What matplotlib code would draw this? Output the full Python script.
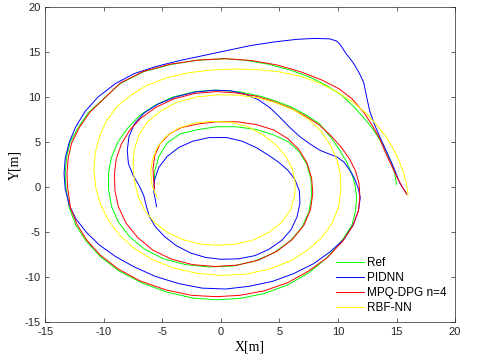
import matplotlib
matplotlib.use("Agg")
import numpy as np
from matplotlib import pyplot as plt

# trajectories (x, y in metres)
ref_x = [15.0, 14.85, 14.6, 14.15, 13.6, 12.95, 12.2, 11.3, 10.3, 9.0, 7.6, 5.9, 4.0, 2.2, 0.4,
         -1.9, -4.3, -6.6, -8.6, -10.1, -11.3, -12.2, -12.9, -13.2, -13.3, -13.25, -12.95, -12.4,
         -11.5, -10.3, -8.7, -6.8, -4.6, -2.4, -0.4, 1.6, 3.7, 5.7, 7.5, 9.0, 10.35, 11.2, 11.5,
         11.6, 11.45, 11.15, 10.7, 10.15, 9.4, 8.45, 7.3, 6.0, 5.0, 3.5, 1.7, -0.4, -2.2, -4.1,
         -5.6, -6.9, -8.0, -8.8, -9.35, -9.6, -9.6, -9.35, -8.75, -7.8, -6.5, -4.9, -3.0, -1.0,
         1.0, 2.9, 4.5, 5.9, 6.9, 7.5, 7.75, 7.7, 7.35, 6.7, 5.8, 4.5, 3.0, 1.3, -0.4, -2.1, -3.5,
         -4.6, -5.3, -5.65, -5.7]
ref_y = [0.3, 1.5, 2.6, 3.9, 5.2, 6.5, 7.7, 9.0, 10.2, 11.3, 12.2, 13.0, 13.65, 14.05, 14.25,
         14.1, 13.6, 12.8, 11.5, 9.7, 8.3, 6.6, 4.9, 3.2, 1.5, 0.0, -2.3, -4.2,
         -6.0, -7.7, -9.3, -10.6, -11.65, -12.3, -12.5, -12.35, -11.8, -10.85, -9.5, -7.9, -5.9, -4.2, -2.6,
         -1.2, 0.3, 1.6, 2.9, 4.1, 5.5, 7.0, 8.0, 8.9, 9.4, 10.05, 10.55, 10.77, 10.6, 10.0,
         9.1, 8.0, 6.5, 5.0, 3.3, 1.6, -0.2, -2.1, -3.9, -5.5, -6.9, -7.95, -8.6, -8.85,
         -8.75, -8.2, -7.3, -6.0, -4.5, -2.8, -1.0, 0.8, 2.5, 3.9, 5.0, 5.8, 6.4, 6.7, 6.7, 6.35, 5.9,
         4.9, 3.4, 1.8, 0.0]

pidnn_x = [15.8, 15.3, 14.75, 14.2, 13.6, 13.1, 12.7, 12.45, 12.2, 11.8, 11.3, 10.7, 10.2, 9.9,
           9.3, 8.0, 6.5, 4.5, 2.5, 0.5, -1.5, -3.5, -5.5, -7.4, -9.0, -10.5, -11.6, -12.4, -12.95,
           -13.3, -13.4, -13.3, -12.95, -12.4, -11.5, -10.4, -9.0, -7.4, -5.6, -3.6, -1.6, 0.4, 2.4,
           4.4, 6.2, 7.9, 9.3, 10.5, 11.3, 11.75, 11.9, 11.75, 11.4, 11.0, 10.5, 9.9, 9.2, 8.45,
           7.6, 6.75, 5.9, 5.0, 4.2, 3.2, 2.0, 0.8, -0.6, -2.2, -3.9, -5.4, -6.6, -7.4, -7.85, -8.0,
           -7.9, -7.5, -7.0, -6.6, -6.35, -6.1, -5.6, -4.8, -3.8, -2.6, -1.3, 0.0, 1.5, 2.9, 4.1,
           5.2, 6.0, 6.5, 6.75, 6.7, 6.3, 5.7, 4.9, 4.0, 3.0, 1.8, 0.5, -1.0, -2.4, -3.6, -4.6,
           -5.3, -5.65, -5.75, -5.6, -5.5]
pidnn_y = [-0.6, 0.4, 2.2, 3.8, 5.5, 7.0, 8.5, 10.0, 11.6, 12.7, 13.8, 14.8, 15.8, 16.2,
           16.45, 16.5, 16.4, 16.1, 15.7, 15.15, 14.6, 14.05, 13.4, 12.6, 11.5, 10.0, 8.4, 6.7, 5.0,
           3.2, 1.5, -0.2, -2.0, -3.5, -5.0, -6.4, -7.7, -8.85, -9.9, -10.7, -11.2, -11.3, -11.0,
           -10.45, -9.6, -8.5, -7.2, -5.8, -4.2, -2.6, -1.2, -0.2, 1.0, 1.9, 2.8, 3.35, 3.7, 4.1,
           4.8, 5.6, 6.6, 7.8, 8.8, 9.7, 10.35, 10.7, 10.75, 10.55, 10.0, 9.2, 8.2, 7.0, 5.6, 4.1,
           2.6, 1.3, 0.2, -0.9, -2.2, -3.3, -4.4, -5.5, -6.5, -7.3, -7.8, -8.0, -7.95, -7.6, -6.9,
           -5.9, -4.7, -3.3, -1.8, -0.4, 0.9, 1.9, 2.8, 3.6, 4.4, 5.1, 5.5, 5.5, 5.1, 4.4, 3.4,
           2.2, 0.9, -0.4, -1.4, -2.15]

mpq_x = [15.9, 15.5, 15.0, 14.5, 14.0, 13.6, 12.95, 12.2, 11.2, 10.1, 8.6, 6.8, 4.8, 2.6, 0.4,
         -1.9, -4.3, -6.6, -8.6, -10.0, -11.2, -12.1, -12.75, -13.05, -13.15, -13.1, -12.85, -12.3,
         -11.45, -10.3, -8.75, -6.9, -4.7, -2.5, -0.4, 1.6, 3.7, 5.7, 7.5, 9.1, 10.4, 11.3, 11.75,
         11.87, 11.8, 11.5, 11.0, 10.3, 9.4, 8.4, 7.2, 5.9, 4.5, 3.0, 1.3, -0.4, -2.2, -4.0, -5.5,
         -6.8, -7.8, -8.5, -8.95, -9.1, -9.05, -8.75, -8.1, -7.1, -5.8, -4.2, -2.4, -0.5, 1.4, 3.2,
         4.8, 6.1, 7.1, 7.65, 7.85, 7.75, 7.35, 6.65, 5.7, 4.5, 3.0, 1.4, -0.4, -2.0, -3.4, -4.4,
         -5.2, -5.65, -5.8, -5.75, -5.65]
mpq_y = [-0.85, 0.0, 1.2, 2.6, 4.0, 5.3, 6.8, 8.3, 9.8, 10.9, 11.9, 12.8, 13.55, 14.05, 14.25,
         14.1, 13.65, 12.85, 11.55, 9.8, 8.3, 6.6, 4.9, 3.2, 1.5, 0.0, -2.3, -4.1,
         -5.9, -7.55, -9.1, -10.4, -11.4, -12.0, -12.15, -12.0, -11.5, -10.6, -9.3, -7.8, -6.0, -4.2, -2.6,
         -1.0, 0.4, 1.8, 3.1, 4.4, 5.7, 6.9, 7.9, 8.8, 9.5, 10.1, 10.45, 10.6, 10.4, 9.8, 8.9,
         7.7, 6.3, 4.8, 3.1, 1.4, -0.4, -2.2, -4.0, -5.6, -7.0, -8.0, -8.6, -8.8, -8.65, -8.1,
         -7.1, -5.8, -4.2, -2.5, -0.7, 1.0, 2.7, 4.2, 5.4, 6.35, 6.95, 7.25, 7.25, 7.0, 6.6, 5.9,
         4.8, 3.5, 2.0, 0.8, -0.2]

rbf_x = [16.0, 15.85, 15.6, 15.2, 14.7, 14.1, 13.3, 12.4, 11.3, 10.0, 8.5, 6.8, 5.0, 3.0, 1.1,
         -0.8, -2.7, -4.6, -6.3, -7.7, -8.9, -9.8, -10.4, -10.75, -10.85, -10.7, -10.3, -9.6, -8.6,
         -7.4, -5.9, -4.1, -2.1, 0.0, 2.1, 4.1, 5.9, 7.4, 8.6, 9.5, 10.05, 10.25, 10.2, 9.9, 9.3,
         8.5, 7.5, 6.3, 4.8, 3.2, 1.5, -0.3, -2.1, -3.8, -5.2, -6.3, -7.0, -7.4, -7.5, -7.4, -7.1,
         -6.55, -5.7, -4.6, -3.3, -1.8, -0.3, 1.3, 2.8, 4.1, 5.2, 5.95, 6.3, 6.35, 6.1, 5.55, 4.7,
         3.6, 2.3, 0.8, -0.8, -2.3, -3.6, -4.7, -5.45, -5.85, -6.0, -5.9, -5.65, -5.45]
rbf_y = [-0.85, 0.3, 1.6, 3.0, 4.3, 5.6, 6.9, 8.2, 9.4, 10.5, 11.5, 12.3, 12.8, 13.05, 13.1,
         13.0, 12.7, 12.15, 11.3, 10.2, 8.9, 7.3, 5.5, 3.7, 1.9, 0.0, -1.9, -3.7, -5.4,
         -6.8, -8.0, -8.95, -9.55, -9.8, -9.65, -9.1, -8.2, -7.0, -5.6, -4.0, -2.2, -0.3, 1.4, 3.1, 4.8,
         6.3, 7.5, 8.5, 9.3, 9.9, 10.2, 10.25, 10.0, 9.4, 8.4, 7.2, 5.8, 4.2, 2.5, 0.8, -0.9,
         -2.5, -3.9, -5.0, -5.8, -6.3, -6.45, -6.3, -5.85, -5.0, -3.9, -2.5, -1.0, 0.5, 2.0, 3.4, 4.7,
         5.8, 6.7, 7.2, 7.3, 7.1, 6.55, 5.6, 4.4, 3.0, 1.6, 0.3, -0.6, -1.1]

labels = ["Ref", "PIDNN", "MPQ-DPG n=4", "RBF-NN"]
colors = ["#00ff00", "#0000ff", "#ff0000", "#ffff00"]

plt.rcParams['font.family'] = ['Liberation Sans', 'DejaVu Sans']
plt.rcParams['axes.unicode_minus'] = False
fig = plt.figure(figsize=(4.79, 3.61), dpi=100)
ax = fig.add_axes([0.0946, 0.107, 0.8554, 0.874])

series = [(ref_x, ref_y), (pidnn_x, pidnn_y), (mpq_x, mpq_y), (rbf_x, rbf_y)]
for (xs, ys), lab, c in zip(series, labels, colors):
    ax.plot(xs, ys, color=c, lw=0.7, label=lab)

ax.set_xlim(-15, 20)
ax.set_ylim(-15, 20)
ax.set_xticks(np.arange(-15, 21, 5))
ax.set_yticks(np.arange(-15, 21, 5))
ax.tick_params(direction='in', top=True, right=True, labelsize=8, length=3, width=0.5, colors='#262626')
for s in ax.spines.values():
    s.set_linewidth(0.5)
    s.set_color('#262626')

ax.set_xlabel("X[m]", family='Liberation Serif', fontsize=10, labelpad=2)
ax.set_ylabel("Y[m]", family='Liberation Serif', fontsize=10, labelpad=2)

ax.legend(loc='lower right', frameon=False, fontsize=8.5, handlelength=2.3,
          handletextpad=0.3, labelspacing=0.25, borderaxespad=0.3)

fig.savefig("out.png", dpi=100)
